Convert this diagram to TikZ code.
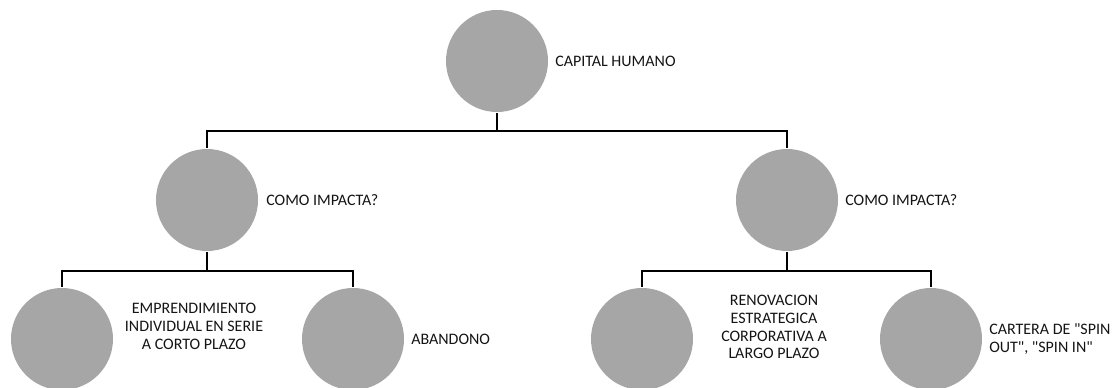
\documentclass[tikz,border=0pt]{standalone}
\usepackage{fontspec}
\setmainfont{Carlito}[Ligatures=TeXOff]
\begin{document}
\begin{tikzpicture}[x=0.75pt,y=-0.75pt,
  disc/.style={circle,fill={rgb,255:red,166;green,166;blue,166},draw=none,
    minimum size=76.5pt,inner sep=0pt,outer sep=1.5pt},
  lab/.style={font=\fontsize{12}{13.4}\selectfont,inner sep=0pt,text=black!92},
  link/.style={draw=black,line width=1.9pt,line cap=rect}]
\clip (0,0) rectangle (1114,388);
\useasboundingbox (0,0) rectangle (1114,388);

% circles
\node[disc] (root) at (497,61) {};
\node[disc] (ml)   at (207,200) {};
\node[disc] (mr)   at (787,200) {};
\node[disc] (l1)   at (62,339) {};
\node[disc] (l2)   at (353,339) {};
\node[disc] (r1)   at (642,339) {};
\node[disc] (r2)   at (931,339) {};

% labels
\node[lab,anchor=west] (troot) at (555,61) {CAPITAL HUMANO};
\node[lab,anchor=west] (tml) at (266,200) {COMO IMPACTA?};
\node[lab,anchor=west] (tmr) at (845,200) {COMO IMPACTA?};
\node[lab,align=center] (tl1) at (194,326) {EMPRENDIMIENTO\\INDIVIDUAL EN SERIE\\A CORTO PLAZO};
\node[lab,anchor=west] (tl2) at (411,339) {ABANDONO};
\node[lab,align=center] (tr1) at (774,327) {RENOVACION\\ESTRATEGICA\\CORPORATIVA A\\LARGO PLAZO};
\node[lab,anchor=west,align=left] (tr2) at (989,339) {CARTERA DE "SPIN\\OUT", "SPIN IN"};

% junctions of the tree
\coordinate (j0) at (497,131);
\coordinate (j1) at (207,271);
\coordinate (j2) at (787,271);

% connectors
\draw[link] (root.south) -- (j0);
\draw[link] (ml.north) |- (j0) -| (mr.north);
\draw[link] (ml.south) -- (j1);
\draw[link] (l1.north) |- (j1) -| (l2.north);
\draw[link] (mr.south) -- (j2);
\draw[link] (r1.north) |- (j2) -| (r2.north);
\end{tikzpicture}
\end{document}
